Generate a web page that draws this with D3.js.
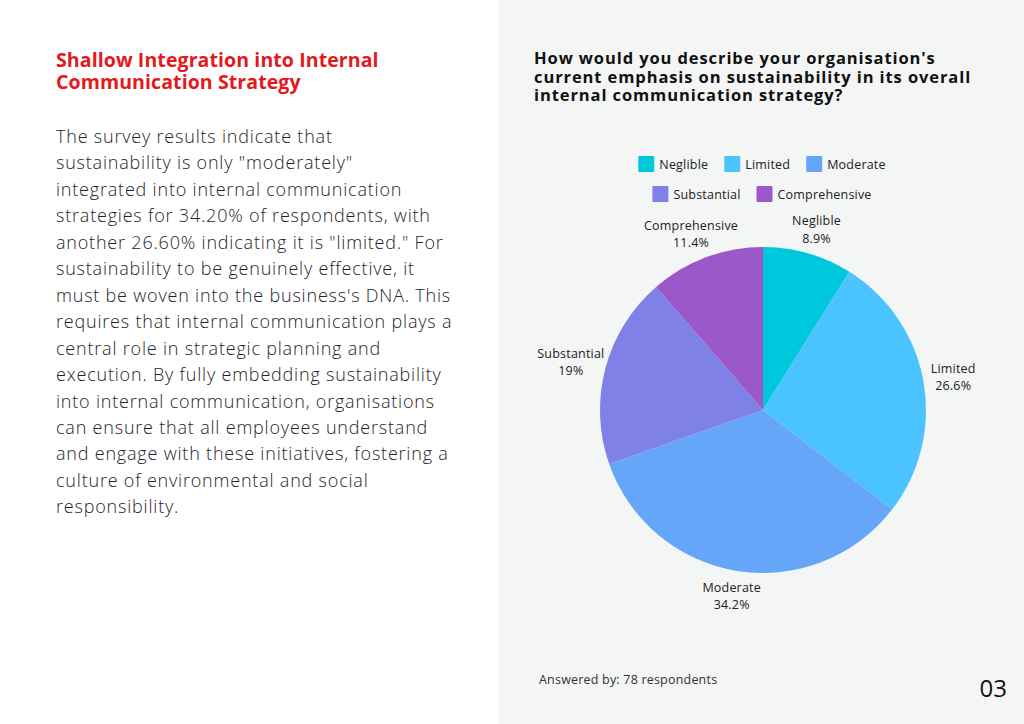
<!DOCTYPE html>
<html lang="en">
<head>
<meta charset="UTF-8">
<title>Shallow Integration into Internal Communication Strategy</title>
<style>
  html, body { margin: 0; padding: 0; background: #fff; }
  svg { display: block; }
  .body-text { font-family: "Open Sans", sans-serif; font-weight: 300; fill: #1f2329; }
  .chart-font { font-family: "Open Sans", sans-serif; }
</style>
</head>
<body>
<svg id="page" width="1024" height="724"></svg>
<script src="https://d3js.org/d3.v7.min.js"></script>
<script>
// --- data ---
const categories = ["Neglible", "Limited", "Moderate", "Substantial", "Comprehensive"];
const shares = [8.9, 26.6, 34.2, 19, 11.4];
const colours = ["#00c8dc", "#4ac3fe", "#65a6f9", "#7f81e6", "#9b58c9"];

const headingLines = ["Shallow Integration into Internal", "Communication Strategy"];
const bodyLines = [
  "The survey results indicate that",
  "sustainability is only \"moderately\"",
  "integrated into internal communication",
  "strategies for 34.20% of respondents, with",
  "another 26.60% indicating it is \"limited.\" For",
  "sustainability to be genuinely effective, it",
  "must be woven into the business's DNA. This",
  "requires that internal communication plays a",
  "central role in strategic planning and",
  "execution. By fully embedding sustainability",
  "into internal communication, organisations",
  "can ensure that all employees understand",
  "and engage with these initiatives, fostering a",
  "culture of environmental and social",
  "responsibility."
];
const questionLines = [
  "How would you describe your organisation's",
  "current emphasis on sustainability in its overall",
  "internal communication strategy?"
];
const legendRows = [["Neglible", "Limited", "Moderate"], ["Substantial", "Comprehensive"]];
const footnote = "Answered by: 78 respondents";
const pageNumber = "03";

const svg = d3.select("#page");

// right panel background
svg.append("rect").attr("x", 498).attr("y", 0).attr("width", 526).attr("height", 724).attr("fill", "#f4f5f5");

// left heading
svg.append("text")
  .attr("class", "chart-font")
  .attr("font-size", 19.5).attr("font-weight", 700).attr("fill", "#e3191c")
  .attr("letter-spacing", 0.1)
  .selectAll("tspan").data(headingLines).join("tspan")
  .attr("x", 56).attr("y", (d, i) => 67 + i * 22)
  .text(d => d);

// left body
svg.append("text")
  .attr("class", "body-text")
  .attr("font-size", 18).attr("letter-spacing", 0.8)
  .selectAll("tspan").data(bodyLines).join("tspan")
  .attr("x", 56).attr("y", (d, i) => 143 + i * 26.45)
  .text(d => d);

// question
svg.append("text")
  .attr("class", "chart-font")
  .attr("font-size", 16.5).attr("font-weight", 700).attr("fill", "#111")
  .attr("letter-spacing", 0.9)
  .selectAll("tspan").data(questionLines).join("tspan")
  .attr("x", 534).attr("y", (d, i) => 64 + i * 18.5)
  .text(d => d);

// legend
const colour = d3.scaleOrdinal().domain(categories).range(colours);
const legend = svg.append("g").attr("class", "chart-font");
const legendRowY = [164, 194];
legendRows.forEach((row, ri) => {
  const g = legend.append("g");
  let x = 0;
  row.forEach(name => {
    const item = g.append("g").attr("transform", `translate(${x},0)`);
    item.append("rect").attr("x", 0).attr("y", -8).attr("width", 16).attr("height", 16)
      .attr("rx", 1).attr("fill", colour(name));
    const t = item.append("text").attr("x", 21).attr("y", 4.5)
      .attr("font-size", 12.5).attr("letter-spacing", 0.2).attr("fill", "#222").text(name);
    x += 21 + t.node().getComputedTextLength() + 16;
  });
  const w = x - 16;
  g.attr("transform", `translate(${762 - w / 2},${legendRowY[ri]})`);
});

// pie
const cx = 763, cy = 410, radius = 163;
const pie = d3.pie().sort(null).value(d => d.v);
const arcs = pie(categories.map((c, i) => ({ c, v: shares[i] })));
const arc = d3.arc().innerRadius(0).outerRadius(radius);
const pieG = svg.append("g").attr("transform", `translate(${cx},${cy})`);
pieG.selectAll("path").data(arcs).join("path")
  .attr("d", arc).attr("fill", d => colour(d.data.c));

// outside labels
const labelG = pieG.append("g").attr("class", "chart-font").attr("font-size", 12.5)
  .attr("letter-spacing", 0.2).attr("fill", "#222");
arcs.forEach(d => {
  const a = (d.startAngle + d.endAngle) / 2;
  const s = Math.sin(a), c = Math.cos(a);
  const t = labelG.append("text").attr("text-anchor", "middle");
  t.append("tspan").attr("x", 0).attr("dy", 0).text(d.data.c);
  t.append("tspan").attr("x", 0).attr("dy", 17.5).text(d.data.v + "%");
  const half = t.node().getBBox().width / 2;
  const x = s * 182 + s * half * 0.5;
  const y = -c * 182 - c * 6;
  t.attr("transform", `translate(${x},${y - 4})`);
});

// footnote and page number
svg.append("text").attr("class", "chart-font").attr("x", 539).attr("y", 684)
  .attr("font-size", 12.5).attr("letter-spacing", 0.2).attr("fill", "#333").text(footnote);
svg.append("text").attr("class", "chart-font").attr("x", 1007).attr("y", 697)
  .attr("text-anchor", "end").attr("font-size", 24).attr("fill", "#111").text(pageNumber);
</script>
</body>
</html>
